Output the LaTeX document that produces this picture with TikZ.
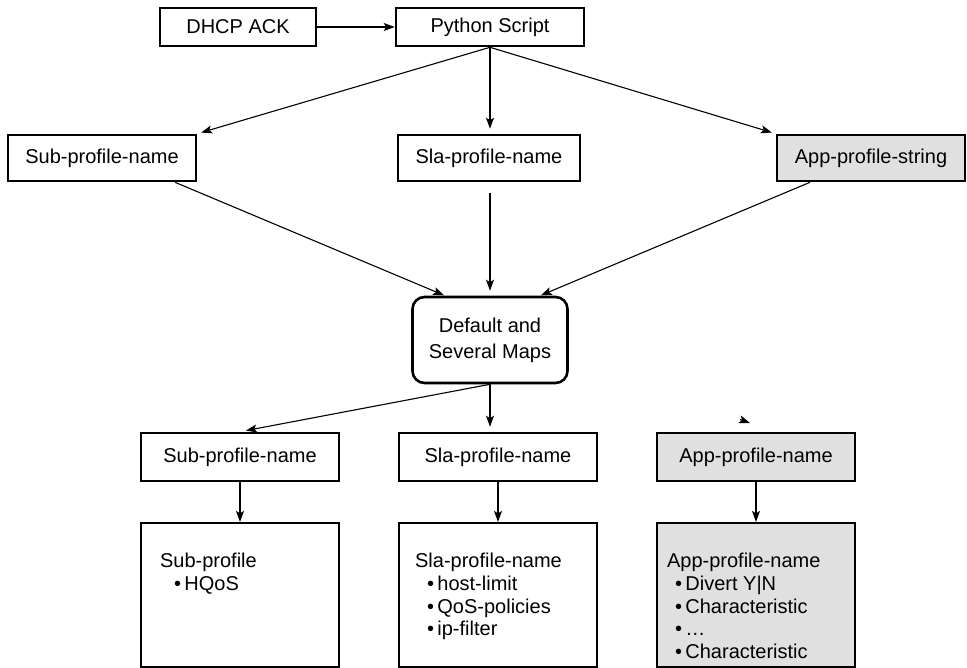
\documentclass[tikz,border=0pt]{standalone}
\usepackage{fontspec}
\setmainfont{Liberation Sans}
\usetikzlibrary{arrows.meta}

\begin{document}
\begin{tikzpicture}[x=1pt, y=-1pt,
    boxStyle/.style={rectangle, draw, line width=2.6pt, minimum width=188pt, minimum height=46pt, inner sep=0pt, font=\fontsize{20}{24}\selectfont},
    greyStyle/.style={boxStyle, fill=black!12},
    mapStyle/.style={rectangle, rounded corners=12pt, draw, line width=2.6pt, minimum width=155pt, minimum height=86pt, align=center, font=\fontsize{20}{26}\selectfont},
    listStyle/.style={rectangle, draw, line width=2.2pt, minimum width=198pt, minimum height=144pt, inner sep=0pt},
    textStyle/.style={anchor=north west, align=left, inner sep=0pt, font=\fontsize{20}{22.8}\selectfont},
    arrowStyle/.style={-{Stealth[length=11pt, width=8pt, inset=2.5pt]}, line width=1.1pt}]
    \useasboundingbox (0,0) rectangle (967,668);

    \node[boxStyle, minimum width=156pt, minimum height=38pt] (top_0) at (238, 27) {DHCP ACK};
    \node[boxStyle, minimum width=188pt, minimum height=38pt] (top_1) at (490, 27) {Python Script};

    \node[boxStyle]                        (mid_0) at (102, 158) {Sub-profile-name};
    \node[boxStyle, minimum width=182pt]   (mid_1) at (489, 158) {Sla-profile-name};
    \node[greyStyle]                       (mid_2) at (871, 158) {App-profile-string};

    \node[mapStyle] (map) at (490, 340) {Default and\\Several Maps};

    \node[boxStyle, minimum width=198pt, minimum height=48pt] (bot_0) at (240, 457) {Sub-profile-name};
    \node[boxStyle, minimum width=198pt, minimum height=48pt] (bot_1) at (498, 457) {Sla-profile-name};
    \node[greyStyle, minimum width=198pt, minimum height=48pt] (bot_2) at (756, 457) {App-profile-name};

    \node[listStyle]               (list_0) at (240, 595) {};
    \node[listStyle]               (list_1) at (498, 595) {};
    \node[listStyle, fill=black!12] (list_2) at (756, 595) {};

    \node[textStyle] (txt_0) at ([xshift=20pt, yshift=-31pt]list_0.north west) {Sub-profile\\\hspace{14pt}•\,HQoS};
    \node[textStyle] (txt_1) at ([xshift=17pt, yshift=-31pt]list_1.north west) {Sla-profile-name\\\hspace{12pt}•\,host-limit\\\hspace{12pt}•\,QoS-policies\\\hspace{12pt}•\,ip-filter};
    \node[textStyle] (txt_2) at ([xshift=11pt, yshift=-31pt]list_2.north west) {App-profile-name\\\hspace{8pt}•\,Divert Y|N\\\hspace{8pt}•\,Characteristic\\\hspace{8pt}•\,…\\\hspace{8pt}•\,Characteristic};

    \coordinate (stub)    at (740, 419.5);
    \coordinate (stubEnd) at (750, 423);

    \draw[arrowStyle] (top_0.east) -- (top_1.west);
    \draw[arrowStyle, shorten >=4pt] (top_1.south) -- (mid_0.north east);
    \draw[arrowStyle, shorten >=5pt] (top_1.south) -- (top_1.south |- mid_1.north);
    \draw[arrowStyle, shorten >=4pt] (top_1.south) -- (mid_2.north west);

    \draw[arrowStyle, shorten >=1pt] ([xshift=73pt]mid_0.south) -- ([xshift=-45pt]map.north);
    \draw[arrowStyle, shorten <=11pt, shorten >=5pt] (map.north |- mid_1.south) -- (map.north);
    \draw[arrowStyle, shorten >=1pt] ([xshift=-61pt]mid_2.south) -- ([xshift=50pt]map.north);

    \draw[arrowStyle, shorten >=6pt] (map.south) -- (bot_0.north);
    \draw[arrowStyle, shorten >=5pt] (map.south) -- (map.south |- bot_1.north);
    \draw[arrowStyle] (stub) -- (stubEnd);

    \draw[arrowStyle] (bot_0.south) -- (list_0.north);
    \draw[arrowStyle] (bot_1.south) -- (list_1.north);
    \draw[arrowStyle] (bot_2.south) -- (list_2.north);
\end{tikzpicture}
\end{document}
